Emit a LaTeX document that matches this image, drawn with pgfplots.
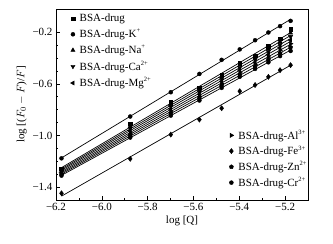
\documentclass[border=0pt]{standalone}
\usepackage{fontspec}
\setmainfont{Liberation Serif}
\usepackage{pgfplots}
\usepackage{pgfplotstable}
\pgfplotsset{compat=1.18}

\pgfplotstableread{
x      drug    K       Na      Ca      Mg      Al      Fe      Zn      Cr
-6.176 -1.259  -1.177  -1.268  -1.276  -1.285  -1.294  -1.448  -1.302  -1.311
-5.876 -0.910  -0.853  -0.928  -0.945  -0.963  -0.981  -1.181  -0.998  -1.016
-5.699 -0.743  -0.665  -0.760  -0.777  -0.795  -0.812  -0.993  -0.829  -0.846
-5.574 -0.631  -0.523  -0.647  -0.664  -0.680  -0.696  -0.877  -0.713  -0.729
-5.477 -0.528  -0.414  -0.545  -0.562  -0.580  -0.597  -0.789  -0.614  -0.631
-5.398 -0.440  -0.333  -0.458  -0.475  -0.493  -0.510  -0.657  -0.528  -0.545
-5.331 -0.381  -0.262  -0.398  -0.415  -0.433  -0.450  -0.609  -0.467  -0.484
-5.273 -0.310  -0.202  -0.331  -0.351  -0.372  -0.392  -0.546  -0.413  -0.433
-5.222 -0.251  -0.153  -0.273  -0.296  -0.318  -0.340  -0.494  -0.363  -0.385
-5.176 -0.178  -0.112  -0.206  -0.234  -0.261  -0.289  -0.455  -0.317  -0.345
}\data

\newcommand{\ionsup}[1]{\raisebox{0.45em}{\fontsize{6.5}{7}\selectfont #1}}

\pgfplotsset{
  common/.style={
    scale only axis, width=252pt, height=191pt,
    xmin=-6.2, xmax=-5.1, ymin=-1.5, ymax=-0.02,
    axis line style={line width=0.6pt},
    xtick={-6.2,-6.0,-5.8,-5.6,-5.4,-5.2},
    xticklabels={−6.2,−6.0,−5.8,−5.6,−5.4,−5.2},
    ytick={-1.4,-1.0,-0.6,-0.2},
    yticklabels={−1.4,−1.0,−0.6,−0.2},
    minor x tick num=1, minor y tick num=3,
    xtick pos=bottom, ytick pos=left,
    tick align=inside,
    major tick length=4pt, minor tick length=2.5pt,
    tick style={line width=0.6pt, black},
    ticklabel style={font=\fontsize{11}{13}\selectfont},
    label style={font=\fontsize{11}{13}\selectfont},
    legend style={draw=none, fill=none, font=\fontsize{11}{13}\selectfont,
      column sep=3.5pt, nodes={inner sep=1.2pt}},
    legend cell align=left,
    every axis plot/.append style={black},
    mark size=2pt,
  },
  fitl/.style={no markers, line width=0.7pt, forget plot},
}

\begin{document}
\begin{tikzpicture}
\useasboundingbox (-56pt,-44pt) rectangle (277pt,200pt);
\begin{axis}[common,
  xlabel={log [Q]},
  ylabel={log [($F_{0}-F$)/$F$]},
  xlabel style={yshift=2pt},
  ylabel style={yshift=-1pt},
  legend style={at={(0.045,0.99)}, anchor=north west, row sep=3.4pt},
]
\addplot[only marks, mark=square*, mark size=1.8pt] table[x=x,y=drug] {\data};
\addlegendentry{BSA-drug}
\addplot[only marks, mark=*] table[x=x,y=K] {\data};
\addlegendentry{BSA-drug-K\ionsup{+}}
\addplot[only marks, mark=triangle*, mark size=2.4pt] table[x=x,y=Na] {\data};
\addlegendentry{BSA-drug-Na\ionsup{+}}
\addplot[only marks, mark=triangle*, mark size=2.4pt, mark options={rotate=180}] table[x=x,y=Ca] {\data};
\addlegendentry{BSA-drug-Ca\ionsup{2+}}
\addplot[only marks, mark=triangle*, mark size=2.4pt, mark options={rotate=90}] table[x=x,y=Mg] {\data};
\addlegendentry{BSA-drug-Mg\ionsup{2+}}
\addplot[fitl] table[x=x, y={create col/linear regression={y=drug}}] {\data};
\addplot[fitl] table[x=x, y={create col/linear regression={y=K}}] {\data};
\addplot[fitl] table[x=x, y={create col/linear regression={y=Na}}] {\data};
\addplot[fitl] table[x=x, y={create col/linear regression={y=Ca}}] {\data};
\addplot[fitl] table[x=x, y={create col/linear regression={y=Mg}}] {\data};
\end{axis}
\begin{axis}[common, hide axis,
  legend style={at={(0.675,0.045)}, anchor=south west, row sep=2.6pt},
]
\addplot[only marks, mark=triangle*, mark size=2.4pt, mark options={rotate=-90}] table[x=x,y=Al] {\data};
\addlegendentry{BSA-drug-Al\ionsup{3+}}
\addplot[only marks, mark=diamond*, mark size=2.6pt] table[x=x,y=Fe] {\data};
\addlegendentry{BSA-drug-Fe\ionsup{3+}}
\addplot[only marks, mark=pentagon*, mark size=2.2pt] table[x=x,y=Zn] {\data};
\addlegendentry{BSA-drug-Zn\ionsup{2+}}
\addplot[only marks, mark=*] table[x=x,y=Cr] {\data};
\addlegendentry{BSA-drug-Cr\ionsup{2+}}
\addplot[fitl] table[x=x, y={create col/linear regression={y=Al}}] {\data};
\addplot[fitl] table[x=x, y={create col/linear regression={y=Fe}}] {\data};
\addplot[fitl] table[x=x, y={create col/linear regression={y=Zn}}] {\data};
\addplot[fitl] table[x=x, y={create col/linear regression={y=Cr}}] {\data};
\end{axis}
\end{tikzpicture}
\end{document}
